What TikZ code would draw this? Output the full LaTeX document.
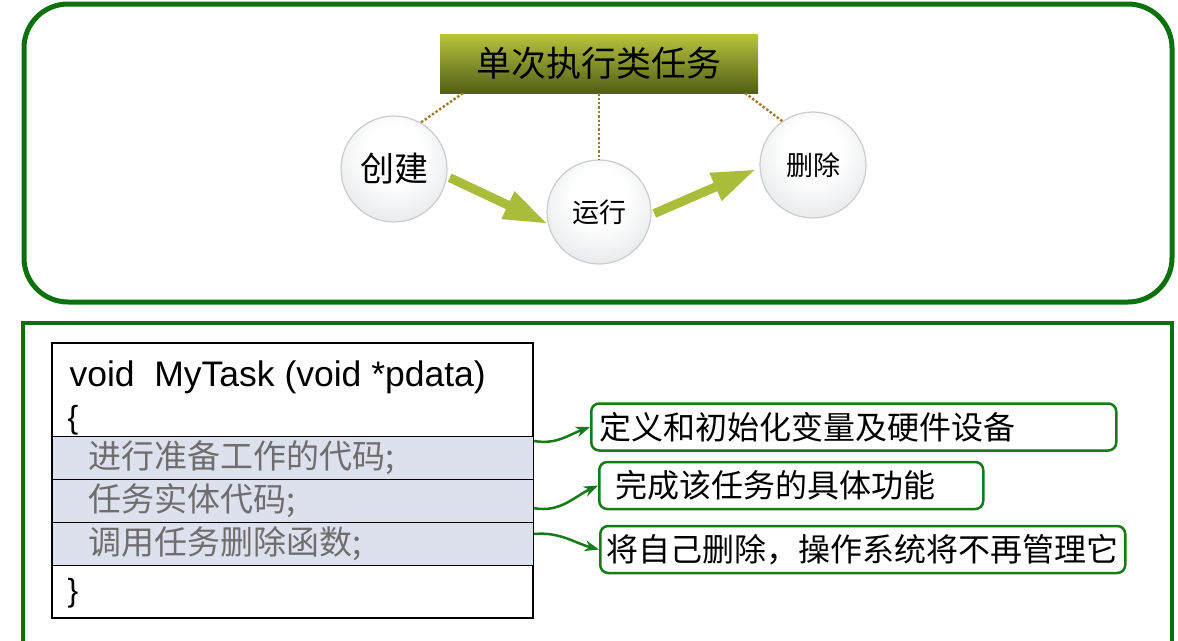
\documentclass[tikz,border=0pt]{standalone}
\usepackage{fontspec}
\setmainfont{Liberation Sans}
\newfontfamily\cjk{Noto Sans CJK SC}
\usetikzlibrary{arrows.meta, positioning}

\definecolor{framegreen}{RGB}{12,112,12}
\definecolor{notegreen}{RGB}{22,122,22}
\definecolor{olivetop}{RGB}{184,196,60}
\definecolor{olivebot}{RGB}{82,94,24}
\definecolor{flowgreen}{RGB}{170,188,58}
\definecolor{linkbrown}{RGB}{162,118,40}
\definecolor{rowfill}{RGB}{221,225,237}
\definecolor{rowtext}{RGB}{110,110,110}
\definecolor{ballmid}{RGB}{224,229,231}
\definecolor{ballrim}{RGB}{188,195,200}
\pgfdeclareradialshading{ballshade}{\pgfpoint{0bp}{10bp}}{color(0bp)=(white);
  color(14bp)=(white); color(34bp)=(ballmid); color(50bp)=(ballrim)}

\begin{document}
\begin{tikzpicture}[x=1pt, y=-1pt, >=Stealth,
  ball/.style={circle, draw=gray!40, line width=1.2pt, shading=ballshade,
    minimum size=106pt, font=\cjk\fontsize{27}{30}\selectfont},
  flow/.style={line width=9pt, flowgreen, -{Triangle[length=44pt, width=28pt]},
    shorten <=3pt},
  link/.style={linkbrown, line width=2.4pt, dotted},
  row/.style={draw, line width=1.2pt, fill=rowfill, minimum height=43pt,
    text width=409pt, inner xsep=36pt, inner ysep=0pt, align=left,
    anchor=north west, text=rowtext, font=\cjk\fontsize{33}{36}\selectfont},
  note/.style={draw=notegreen, line width=2.5pt, rounded corners=8pt, fill=white,
    minimum height=47pt, inner ysep=0pt, align=left, anchor=west,
    font=\cjk\fontsize{32}{36}\selectfont},
  call/.style={notegreen, line width=2.5pt, ->}]
  \useasboundingbox (0,0) rectangle (1178,640);
  \clip (0,0) rectangle (1178,640);

  % Frames
  \draw[framegreen, line width=5pt, rounded corners=44pt] (24,4) rectangle (1172,302);
  \draw[framegreen, line width=4pt] (23,323) rectangle (1172,660);

  % Task life cycle
  \node[top color=olivetop, bottom color=olivebot, minimum width=318pt,
    minimum height=59pt, font=\cjk\fontsize{35}{40}\selectfont]
    (title) at (599,63.5) {单次执行类任务};
  \node[ball, font=\cjk\fontsize{34}{38}\selectfont] (create) at (394,169) {创建};
  \node[ball, minimum size=104pt] (run) at (599,212) {运行};
  \node[ball] (delete) at (813,165) {删除};

  \draw[link] ([xshift=23pt]title.south west) -- (create.60);
  \draw[link] (title.south) -- (run.north);
  \draw[link] ([xshift=-13pt]title.south east) -- (delete.125);

  \draw[flow] (create.-8) -- (run.193);
  \draw[flow, shorten >=4pt] (run.-3) -- (delete.183);

  % Task code
  \node[draw, line width=1.2pt, minimum width=481pt, minimum height=275pt]
    (code) at (292.5,480.5) {};
  \node[row] (r1) at (52,436) {进行准备工作的代码;};
  \node[row] (r2) at (52,479) {任务实体代码;};
  \node[row] (r3) at (52,522) {调用任务删除函数;};
  \node[anchor=base west, font=\fontsize{35.5}{40}\selectfont] (sig) at (66,386)
    {void\ \ MyTask (void *pdata)};
  \node[anchor=base west, font=\fontsize{32}{36}\selectfont] (lb) at (64,428) {\{};
  \node[anchor=base west, font=\fontsize{32}{36}\selectfont] (rb) at (64,601) {\}};

  % Notes
  \node[note, inner xsep=8pt, text width=509pt] (n1) at (590,427)
    {定义和初始化变量及硬件设备};
  \node[note, inner xsep=16pt, text width=352pt] (n2) at (598,485.5)
    {完成该任务的具体功能};
  \node[note, inner xsep=6pt, text width=513pt] (n3) at (599,549.5)
    {将自己删除，操作系统将不再管理它};

  \draw[call] ([yshift=-5pt]r1.north east) to[out=-10, in=200] (n1.west);
  \draw[call] ([yshift=15pt]r2.south east) to[out=-10, in=205] (n2.west);
  \draw[call] ([yshift=-12pt]r3.north east) to[out=5, in=165] (n3.west);
\end{tikzpicture}
\end{document}
